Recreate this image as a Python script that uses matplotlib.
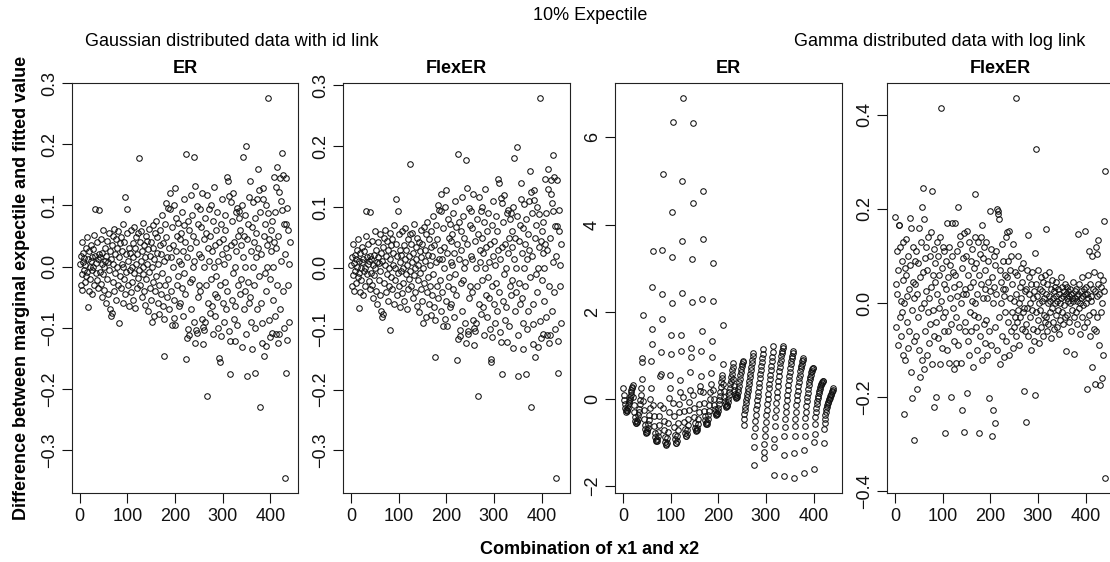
import numpy as np
import matplotlib
matplotlib.use("Agg")
import matplotlib.pyplot as plt

plt.rcParams['font.family'] = ['Liberation Sans', 'DejaVu Sans']

# ---------------- data (index = combination of x1 and x2, 1..441) ----------------
# Gaussian / id link, ER  (values in units of 0.001)
gauss_er_milli = [
    5, -30, 18, -12, 40, -38, 8, 22, -5, 14, -25, 2, 30, -15, 48, -8, 12, -66, 25, -40, 0,
    -20, 10, 35, -45, 15, -5, 28, 0, -30, 52, 94, 18, -10, 6, 40, -22, 12, -35, 20, 92, -8,
    15, -28, 45, 5, -50, 22, -12, 60, 0, -38, 30, 10, -60, 18, 42, -20, 8, -45, 55, -5, 25,
    -70, 12, -80, 35, -75, 50, -25, 5, 62, -40, 20, -10, 45, -55, 30, 0, -30, 58, 15, -92, 38,
    -15, 48, -35, 25, 5, -60, 70, 0, -20, 40, 113, -45, 20, -8, 94, 55, -30, 10, -65, 30, -5,
    22, -42, 60, 0, -25, 38, -55, 15, 65, -10, 30, -68, 5, 48, -35, 20, -18, 55, 178, -5, 40,
    -30, 10, 58, -50, 25, -12, 72, 0, -40, 35, 15, -62, 50, -20, 5, 42, -72, 28, -8, 62, -35,
    18, -55, 40, 0, -90, 68, -25, 30, 12, -81, 55, -40, 75, -15, 22, 48, -60, 5, -30, -77, 35,
    60, -45, 20, -10, 85, -65, 38, -86, -146, 10, 70, -30, 48, 104, -50, 15, 95, -20, 30, -70, 121,
    94, -40, 15, 65, -95, 0, 35, -84, 100, -55, 128, -96, 25, 80, -30, 50, -15, 72, -65, 10, 45,
    -60, 55, 5, -35, 90, 25, -80, 110, -10, 68, -45, 40, -151, 184, -117, 15, 75, -102, -112, 60, -25,
    30, -70, 117, -20, 85, 0, 50, -90, 10, 179, -124, 131, 40, -104, -109, 99, -50, 70, -30, 20, 94,
    -40, 65, 15, -85, 121, -127, -98, 45, -104, 0, -90, 80, -30, 55, -211, 117, -60, 30, 10, 94, -75,
    50, -20, 100, -65, 25, 75, -110, 0, 130, -45, 35, -80, 60, -15, 90, -50, 10, -100, 40, -149, -155,
    -30, 70, -114, 20, 110, -60, 45, -90, 5, 85, -25, 60, -70, 30, 146, -40, 140, 15, -105, 115, -121,
    -175, 106, 35, -55, 75, -10, 120, -85, 40, 0, -65, -122, 90, 25, 96, -95, 50, -30, 80, 91, -45,
    60, -20, 35, -131, 100, 15, 179, -70, 50, -40, 0, 85, 197, -110, -178, 45, -25, 70, -60, 113, 140,
    -50, 25, -90, -134, 65, 0, 105, -30, 40, -174, 80, -100, 15, 55, -70, 110, 30, 159, -15, 125, -229,
    90, 20, -60, -125, -92, 128, 111, -146, 50, -10, 70, -40, 100, -130, 0, 35, 88, 275, -87, 45, -115,
    -20, 60, 25, -108, 75, -55, 0, 40, 146, 90, -80, 30, -110, 130, 162, -30, -124, 50, -110, 122, 145,
    -70, 107, 10, 186, 93, -40, 149, 69, -100, -345, 20, 69, 145, -173, -120, 95, 60, -30, 5, -90, 40,
]
# Gaussian / id link, FlexER: same as ER except these points (index -> value in 0.001)
gauss_flexer_changes = {83: -102, 124: 170, 224: 188, 241: 178, 343: 180, 349: 198, 396: 279}

# Gamma / log link, ER  (values in units of 0.01)
gamma_er_centi = [
    25, 10, -2, -12, -20, -26, -30, -28, -25, -20, -15, -10, -5, 0, 5, 10, 15, 20, 25, 28, 32,
    5, -15, -30, -42, -50, -55, -56, -54, -50, -45, -38, -30, -22, -12, -2, 10, 25, 45, 85, 93, 193,
    -5, -25, -45, -60, -70, -76, -78, -76, -72, -66, -58, -48, -36, -20, 0, 25, 88, 125, 161, 257, 340,
    -15, -40, -62, -78, -88, -94, -97, -96, -92, -85, -75, -60, -40, -15, 53, 58, 108, 184, 240, 342, 516,
    -20, -50, -72, -88, -98, -104, -105, -100, -90, -75, -55, -30, 3, 26, 54, 103, 147, 219, 325, 430, 635,
    -10, -40, -65, -82, -93, -100, -101, -96, -86, -72, -55, -30, -12, 15, 43, 111, 147, 242, 363, 501, 690,
    5, -28, -52, -68, -78, -84, -85, -80, -72, -60, -45, -25, -8, 20, 62, 96, 117, 222, 322, 449, 634,
    10, -20, -42, -56, -66, -72, -74, -72, -66, -57, -45, -30, -12, 19, 30, 52, 111, 156, 229, 366, 477,
    15, -10, -28, -40, -49, -55, -58, -57, -53, -47, -38, -27, -14, 0, 15, 35, 60, 96, 132, 225, 313,
    20, 0, -14, -24, -30, -34, -36, -35, -32, -27, -20, -12, -3, 7, 17, 28, 38, 48, 55, 81, 169,
    35, 18, 5, -5, -12, -16, -18, -17, -13, -7, 0, 8, 16, 25, 34, 42, 50, 58, 66, 74, 82,
    45, 30, 20, 12, 7, 4, 3, 5, 9, 15, 22, 30, 38, 46, 54, 62, 69, 75, 80, 84, 87,
    -60, -45, -35, -26, -18, -10, -3, 4, 11, 18, 26, 34, 42, 50, 58, 66, 74, 82, 90, 98, 106,
    -152, -110, -86, -66, -50, -36, -24, -13, -3, 7, 17, 27, 37, 47, 57, 66, 75, 84, 93, 104, 115,
    -136, -122, -103, -86, -68, -52, -38, -25, -12, 0, 12, 24, 35, 46, 56, 66, 76, 86, 96, 108, 121,
    -175, -110, -91, -62, -42, -25, -10, 4, 17, 29, 41, 52, 63, 73, 82, 90, 98, 105, 111, 117, 121,
    -177, -128, -84, -65, -47, -31, -16, -3, 9, 21, 32, 43, 53, 62, 71, 79, 86, 93, 99, 105, 110,
    -181, -124, -86, -63, -45, -29, -15, -3, 8, 19, 29, 39, 48, 56, 63, 70, 76, 81, 86, 90, 94,
    -170, -118, -84, -62, -44, -29, -16, -5, 5, 14, 23, 31, 38, 45, 51, 56, 61, 65, 68, 70, 72,
    -160, -99, -80, -58, -42, -30, -20, -12, -5, 1, 7, 13, 18, 23, 27, 31, 34, 37, 39, 41, 42,
    -100, -70, -55, -45, -37, -30, -24, -19, -14, -10, -6, -3, 0, 3, 6, 9, 12, 15, 18, 21, 24,
]

# Gamma / log link, FlexER  (values in units of 0.001)
gamma_flexer_milli = [
    182, 40, -50, 110, 20, -90, 70, 166, 166, -30, 120, 5, -70, 90, -20, 130, -110, 50, 0, -236, 75,
    -120, 60, 135, -40, 15, -95, 100, 30, -60, 180, 80, -146, 160, -15, -202, 45, 120, -80, 10, -291, 90,
    40, -70, 110, -183, 20, -30, 85, 160, -100, -157, 55, 130, -10, -120, 203, 65, 245, 0, 178, -140, 95,
    -60, 120, 25, -110, 70, -20, 140, 10, -85, 100, -45, 35, 150, -130, 238, 60, -15, 115, -70, -220, 45,
    85, -40, -200, 130, 20, -75, 100, -10, 60, -130, 140, 414, 5, -95, 75, -30, 120, 40, -60, 110, -275,
    -20, 90, 30, -100, 171, 55, -60, 120, -128, 10, 80, -45, -200, 100, 171, -10, 65, -140, 35, -80, 171,
    60, -30, -128, 110, 15, -90, 203, 40, -50, 125, 142, 0, -128, 75, -226, 20, 95, -274, 148, -60, 30,
    -40, 100, 20, -190, 152, -80, 60, 130, -110, 35, -20, 90, -60, 5, 115, -135, 45, 75, -25, 140, 0,
    231, -50, 85, 20, -100, 130, -30, 60, -275, 105, -70, 40, 140, 166, -120, 10, 95, -45, 120, 30, -85,
    70, -35, 130, 10, -110, 90, 45, -60, -201, 196, 25, 115, -90, 55, -282, 0, -227, 100, 35, -255, 80,
    -50, 110, 20, -100, 200, 189, 196, 179, -30, 70, -130, 45, 0, 125, -70, 30, 90, -115, 15, 60, -20,
    30, 140, -80, 55, 150, -40, 90, 154, -110, 10, 70, -60, 100, -20, 40, -95, 125, 5, -50, 65, -30,
    -70, 435, 20, -40, 60, -15, 100, 0, -90, 35, -30, 75, 10, -55, 45, -20, 85, -10, -186, 25, -60,
    -252, 30, -45, 70, -10, 145, -70, 20, 55, -30, 0, -100, 40, -15, 65, -55, 10, -80, 25, -196, 107,
    -20, 328, 40, -60, 15, -35, 70, 0, -85, 30, -15, 55, -50, 5, 25, -70, 45, -25, 10, -40, 60,
    157, -30, 20, -60, 40, 0, -45, 15, 65, -20, 5, -75, 30, -10, 50, -40, 10, 25, -55, 0, 35,
    -25, 15, 45, -50, 5, -15, 30, -65, 20, 0, -35, 55, 10, -20, 35, -45, 15, 25, -5, 40, -30,
    20, -102, 10, 35, -25, 5, 25, -40, 15, 0, 30, -60, 20, 10, -15, 45, 5, -30, -109, 25, 10,
    -20, 30, 5, -45, 15, 147, 20, -10, 40, 0, -65, 25, 10, -30, 55, 15, -5, 30, -50, 20, 152,
    0, 35, -182, 20, -40, 60, 10, 110, -25, 40, -70, 15, 5, 100, -135, 30, -20, 65, -55, -172, 25,
    -60, 120, 15, -30, 105, 40, 134, -90, 20, -174, 60, -20, 35, -159, 0, 50, -110, 25, 175, 281, -371,
]

panel_titles = ["ER", "FlexER", "ER", "FlexER"]
yticks_sets = [
    [-0.3, -0.2, -0.1, 0.0, 0.1, 0.2, 0.3],
    [-0.3, -0.2, -0.1, 0.0, 0.1, 0.2, 0.3],
    [-2, 0, 2, 4, 6],
    [-0.4, -0.2, 0.0, 0.2, 0.4],
]
ytick_labels = [
    ["\u22120.3", "\u22120.2", "\u22120.1", "0.0", "0.1", "0.2", "0.3"],
    ["\u22120.3", "\u22120.2", "\u22120.1", "0.0", "0.1", "0.2", "0.3"],
    ["\u22122", "0", "2", "4", "6"],
    ["\u22120.4", "\u22120.2", "0.0", "0.2", "0.4"],
]
xticks = [0, 100, 200, 300, 400]

# ---------------- build series ----------------
assert len(gauss_er_milli) == 441
assert len(gamma_er_centi) == 441
assert len(gamma_flexer_milli) == 441
idx = np.arange(1, 442)
g_er = np.array(gauss_er_milli, float) / 1000.0
g_flex = g_er.copy()
for k, v in gauss_flexer_changes.items():
    g_flex[k - 1] = v / 1000.0
ga_er = np.array(gamma_er_centi, float) / 100.0
ga_flex = np.array(gamma_flexer_milli, float) / 1000.0
series = [g_er, g_flex, ga_er, ga_flex]

# ---------------- layout ----------------
W, H = 1110, 562
fig = plt.figure(figsize=(W / 100, H / 100), dpi=100)
top_px, bot_px = 83, 493
lefts = [71.7, 343, 615, 887]
wpx = 226.5

def rlim(v):
    lo, hi = float(np.min(v)), float(np.max(v))
    d = (hi - lo) * 0.04
    return lo - d, hi + d

for i in range(4):
    ax = fig.add_axes([lefts[i] / W, (H - bot_px) / H, wpx / W, (bot_px - top_px) / H])
    ax.plot(idx, series[i], linestyle='none', marker='o', markersize=4.0,
            markerfacecolor='none', markeredgecolor='#111111', markeredgewidth=0.75)
    ax.set_xlim(*rlim(idx))
    ax.set_ylim(*rlim(series[i]))
    ax.set_xticks(xticks)
    ax.set_xticklabels([str(t) for t in xticks])
    ax.set_yticks(yticks_sets[i])
    ax.set_yticklabels(ytick_labels[i])
    ax.tick_params(direction='out', length=7, width=0.8, labelsize=13, colors='#111111')
    ax.tick_params(axis='x', pad=4)
    ax.tick_params(axis='y', pad=3)
    for lbl in ax.get_yticklabels():
        lbl.set_rotation(90)
        lbl.set_va('center')
    for sp in ax.spines.values():
        sp.set_linewidth(0.8)
        sp.set_color('#222222')
    cx = (lefts[i] + wpx / 2) / W
    fig.text(cx, 1 - 68 / H, panel_titles[i], ha='center', va='center',
             fontsize=13, fontweight='bold')

fig.text(590 / W, 1 - 15 / H, "10% Expectile", ha='center', va='center', fontsize=13)
fig.text(232 / W, 1 - 42 / H, "Gaussian distributed data with id link", ha='center',
         va='center', fontsize=13)
fig.text(940 / W, 1 - 42 / H, "Gamma distributed data with log link", ha='center',
         va='center', fontsize=13)
fig.text(590 / W, 1 - 549 / H, "Combination of x1 and x2", ha='center', va='center',
         fontsize=13, fontweight='bold')
fig.text(22 / W, 1 - 288 / H, "Difference between marginal expectile and fitted value",
         ha='center', va='center', rotation=90, fontsize=13, fontweight='bold')

fig.savefig("out.png", dpi=100)
